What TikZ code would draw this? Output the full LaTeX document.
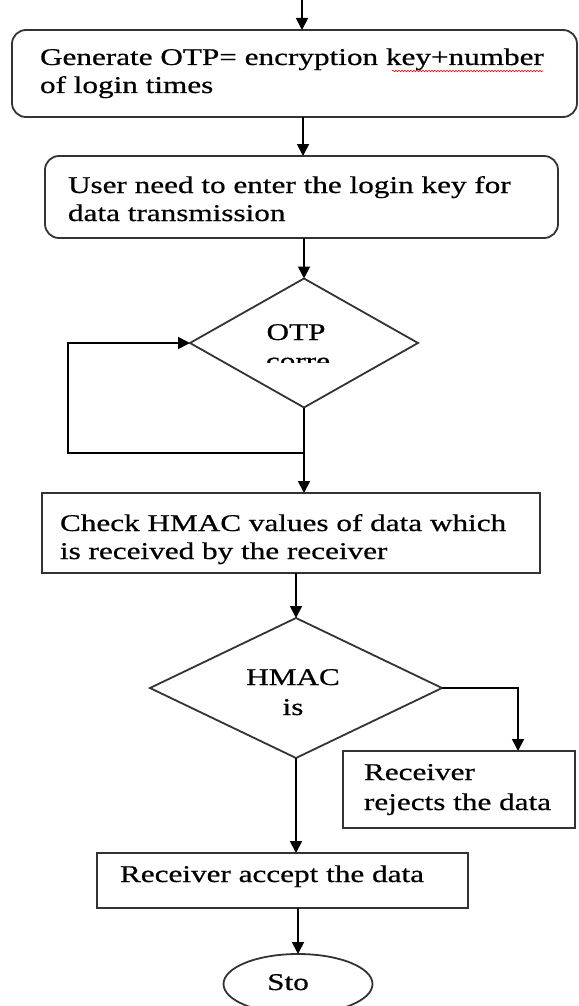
\documentclass[tikz,border=0pt]{standalone}
\usepackage{fontspec}
\setmainfont[FakeStretch=1.3,FakeBold=0.6]{Liberation Serif}
\usetikzlibrary{shapes.geometric,arrows.meta,decorations.pathmorphing}
\begin{document}
\begin{tikzpicture}[x=1pt,y=-1pt,
  shp/.style={draw=black!80,line width=1.8pt,inner sep=0pt,outer sep=0pt},
  rbox/.style={shp,rectangle,rounded corners=14pt},
  sbox/.style={shp,rectangle},
  dmd/.style={shp,diamond},
  oval/.style={shp,ellipse},
  txt/.style={inner sep=0pt,outer sep=0pt,font=\fontsize{24}{28}\selectfont},
  arr/.style={line width=1.8pt,draw=black,-{Triangle[width=12pt,length=12pt]}},
  ln/.style={line width=1.8pt,draw=black}
]
\useasboundingbox (0,0) rectangle (578,1006);
\fill[white] (0,0) rectangle (578,1006);

% shapes
\node[rbox,minimum width=565pt,minimum height=87pt] (b1) at (294.5,73.5) {};
\node[rbox,minimum width=513pt,minimum height=82pt] (b2) at (301.5,197) {};
\node[dmd,minimum width=228pt,minimum height=129pt] (otp) at (304,343) {};
\node[sbox,minimum width=498pt,minimum height=80pt] (b3) at (291,533) {};
\node[dmd,minimum width=292pt,minimum height=140pt] (hmac) at (296,688) {};
\node[sbox,minimum width=232pt,minimum height=77pt] (rej) at (459,789.5) {};
\node[sbox,minimum width=371pt,minimum height=55pt] (acc) at (282.5,880.5) {};
\node[oval,minimum width=149pt,minimum height=60pt] (stop) at (298,984) {};

% helper coordinates
\coordinate (top) at (302,0);
\coordinate (xa) at (303,0);
\coordinate (lp) at (304,453);
\coordinate (lpl) at (68,453);
\coordinate (xr) at (518,0);

% connectors
\draw[arr] (top) -- (top |- b1.north);
\draw[arr] (b1.south -| xa) -- (b2.north -| xa);
\draw[arr] (b2.south -| otp.north) -- (otp.north);
\draw[arr] (otp.south) -- (otp.south |- b3.north);
\draw[arr] (lp) -- (lpl) |- (otp.west);
\draw[arr] (b3.south -| hmac.north) -- (hmac.north);
\draw[arr] (hmac.east) -| (rej.north -| xr);
\draw[arr] (hmac.south) -- (hmac.south |- acc.north);
\draw[arr] (acc.south -| stop.north) -- (stop.north);

% texts
\node[txt,anchor=base west] (t1a) at (40,65) {Generate OTP= encryption key+number};
\node[txt,anchor=base west] (t1b) at (40,93) {of login times};
\draw[red,line width=0.6pt,decorate,decoration={snake,amplitude=0.8pt,segment length=3pt}] (392,71) -- (543,71);
\node[txt,anchor=base west] (t2a) at (68,193) {User need to enter the login key for};
\node[txt,anchor=base west] (t2b) at (68,221) {data transmission};
\node[txt,anchor=base] (t3a) at (296,340) {OTP};
\begin{scope}
\clip (200,345) rectangle (400,362);
\node[txt,anchor=base] (t3b) at (298,369) {corre};
\end{scope}
\node[txt,anchor=base west] (t4a) at (60,531) {Check HMAC values of data which};
\node[txt,anchor=base west] (t4b) at (60,559) {is received by the receiver};
\node[txt,anchor=base] (t5a) at (293,685) {HMAC};
\node[txt,anchor=base] (t5b) at (293,715) {is};
\node[txt,anchor=base west] (t6a) at (364,780) {Receiver};
\node[txt,anchor=base west] (t6b) at (364,810) {rejects the data};
\node[txt,anchor=base west] (t7) at (120,882) {Receiver accept the data};
\node[txt,anchor=base] (t8) at (288,990) {Sto};
\end{tikzpicture}
\end{document}
